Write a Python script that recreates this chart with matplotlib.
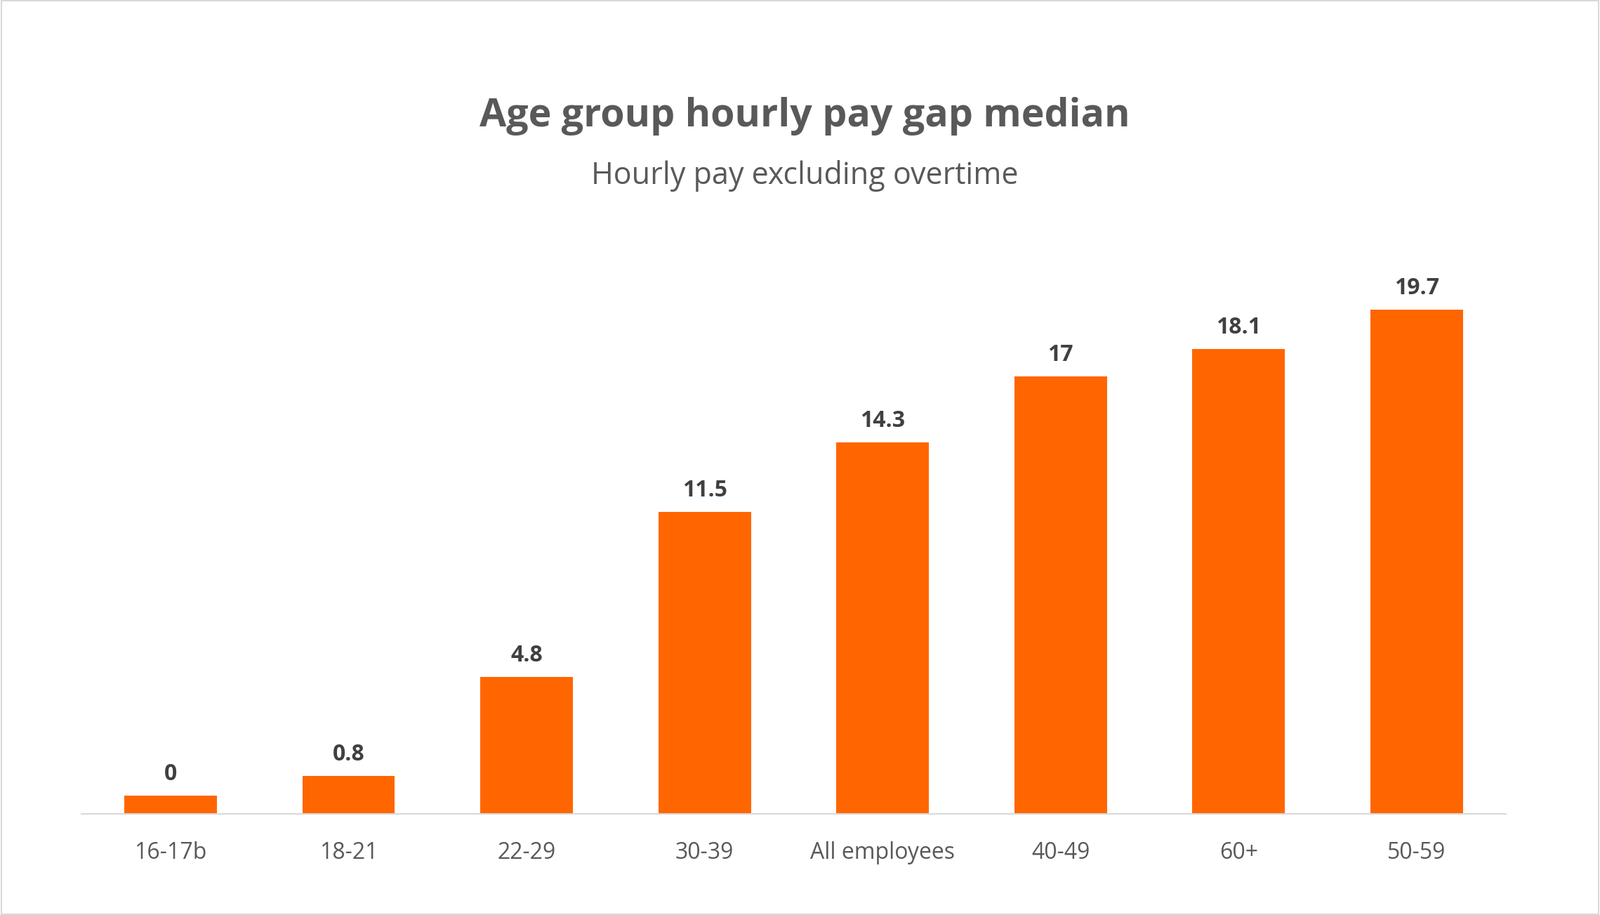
import matplotlib
matplotlib.use("Agg")
import matplotlib.pyplot as plt
from matplotlib.patches import Rectangle

categories = ["16-17b", "18-21", "22-29", "30-39", "All employees", "40-49", "60+", "50-59"]
values = [0, 0.8, 4.8, 11.5, 14.3, 17, 18.1, 19.7]
labels = ["0", "0.8", "4.8", "11.5", "14.3", "17", "18.1", "19.7"]

plt.rcParams["font.family"] = "Open Sans"
fig = plt.figure(figsize=(22.79, 13.03), dpi=100)
fig.patches.append(Rectangle((0.001, 0.001), 0.998, 0.998, transform=fig.transFigure,
                             fill=False, edgecolor="#d9d9d9", linewidth=1.5))
ax = fig.add_axes([0.051, 0.1105, 0.890, 0.6105])
ymin = -0.75
x = range(len(categories))
ax.bar(x, [v - ymin for v in values], bottom=ymin, width=0.52, color="#FF6600")
for xi, v, l in zip(x, values, labels):
    ax.text(xi, v + 0.4, l, ha="center", va="bottom", fontsize=23, fontweight="bold", color="#404040")
ax.set_xlim(-0.5, 7.5)
ax.set_ylim(ymin, 21.9)
ax.set_xticks(list(x))
ax.set_xticklabels(categories, fontsize=23, color="#595959")
ax.tick_params(axis="x", length=0, pad=28)
ax.set_yticks([])
for s in ["top", "right", "left"]:
    ax.spines[s].set_visible(False)
ax.spines["bottom"].set_color("#d9d9d9")
ax.spines["bottom"].set_linewidth(1.5)
fig.text(0.503, 0.873, "Age group hourly pay gap median", ha="center", va="center",
         fontsize=40, fontweight="bold", color="#595959")
fig.text(0.503, 0.808, "Hourly pay excluding overtime", ha="center", va="center",
         fontsize=31, color="#595959")
fig.savefig("out.png", dpi=100)
